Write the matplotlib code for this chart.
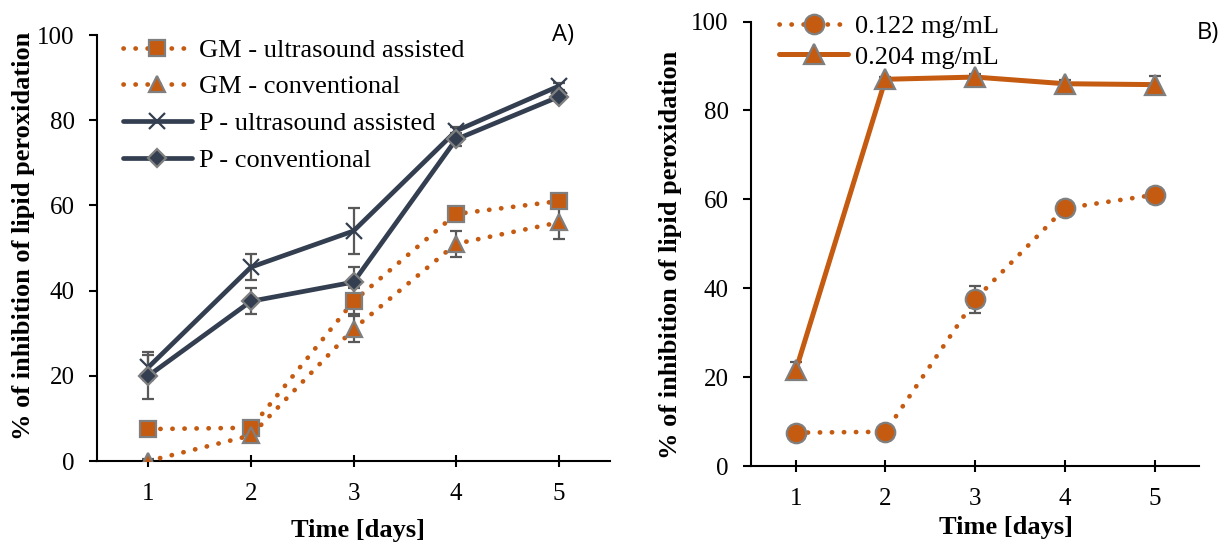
import numpy as np
import matplotlib
matplotlib.use("Agg")
import matplotlib.pyplot as plt

plt.rcParams['font.family'] = ['Liberation Serif', 'DejaVu Serif']

days = [1, 2, 3, 4, 5]

# panel A
gm_us = [7.5, 7.8, 37.5, 58.0, 61.0]
gm_us_err = [0.8, 0.8, 3.0, 1.0, 1.0]
gm_conv = [0.0, 6.0, 31.0, 51.0, 56.0]
gm_conv_err = [0.5, 0.8, 3.0, 3.0, 4.0]
p_us = [22.0, 45.5, 54.0, 77.5, 88.0]
p_us_err = [3.0, 3.0, 5.5, 1.0, 0.8]
p_conv = [20.0, 37.5, 42.0, 75.5, 85.5]
p_conv_err = [5.5, 3.0, 3.5, 1.5, 0.8]

# panel B
c122 = [7.5, 7.7, 37.5, 58.0, 61.0]
c122_err = [0.5, 0.5, 3.0, 1.0, 0.8]
c204 = [21.5, 87.0, 87.5, 86.0, 85.8]
c204_err = [2.0, 0.6, 0.6, 0.8, 2.0]

orange = "#C55A11"
navy = "#333F50"
edge = "#7F7F7F"
errc = "#595959"
dots = (0, (0.05, 2.5))

fig = plt.figure(figsize=(12.19, 5.43), dpi=100)
axA = fig.add_axes([0.0796, 0.151, 0.4208, 0.7845])
axB = fig.add_axes([0.616, 0.1418, 0.368, 0.8186])


def series(ax, y, err, ls, lw, marker, ms, color, label):
    ax.errorbar(days, y, yerr=err, fmt="none", ecolor=errc, elinewidth=1.6,
                capsize=4.5, capthick=1.6, zorder=2)
    is_x = marker == "x"
    ax.plot(days, y, linestyle=ls, linewidth=lw, color=color, marker=marker,
            markersize=ms, markerfacecolor=color,
            markeredgecolor=navy if is_x else edge,
            markeredgewidth=1.6,
            dash_capstyle="round", solid_capstyle="round", label=label, zorder=3)


series(axA, gm_us, gm_us_err, dots, 3.4, "s", 12, orange, "GM - ultrasound assisted")
series(axA, gm_conv, gm_conv_err, dots, 3.4, "^", 12, orange, "GM - conventional")
series(axA, p_us, p_us_err, "-", 3.4, "x", 11, navy, "P - ultrasound assisted")
series(axA, p_conv, p_conv_err, "-", 3.4, "D", 9.5, navy, "P - conventional")

series(axB, c122, c122_err, dots, 3.4, "o", 14, orange, "0.122 mg/mL")
series(axB, c204, c204_err, "-", 3.6, "^", 14, orange, "0.204 mg/mL")

for ax in (axA, axB):
    ax.set_xlim(0.5, 5.5)
    ax.set_ylim(0, 100)
    ax.set_xticks(days)
    ax.set_yticks(range(0, 101, 20))
    for s in ("top", "right"):
        ax.spines[s].set_visible(False)
    for s in ("left", "bottom"):
        ax.spines[s].set_linewidth(1.5)
    ax.tick_params(axis="y", direction="out", length=6, width=1.5, labelsize=18, pad=10)
    ax.tick_params(axis="x", direction="inout", length=9, width=1.5, labelsize=18, pad=11)
    ax.set_xlabel("Time [days]", fontsize=19, fontweight="bold")
    ax.set_ylabel("% of inhibition of lipid peroxidation", fontsize=19, fontweight="bold")
    ax.xaxis.label.set_va("center")
    ax.yaxis.label.set_va("center")

axA.xaxis.set_label_coords(0.509, -0.162)
axB.xaxis.set_label_coords(0.568, -0.139)
axA.yaxis.set_label_coords(-0.144, 0.529)
axB.yaxis.set_label_coords(-0.18, 0.476)

axA.legend(loc="upper left", bbox_to_anchor=(0.03, 1.017), frameon=False, fontsize=19,
           handlelength=2.6, handletextpad=0.27, labelspacing=0.5, borderaxespad=0)
axB.legend(loc="upper left", bbox_to_anchor=(0.04, 1.04), frameon=False, fontsize=19,
           handlelength=2.6, handletextpad=0.27, labelspacing=0.28, borderaxespad=0)

fig.text(552 / 1219, 1 - 35 / 543, "A)", fontsize=17, va="center",
         family=["Open Sans", "DejaVu Sans"])
fig.text(1197 / 1219, 1 - 33 / 543, "B)", fontsize=17, va="center",
         family=["Open Sans", "DejaVu Sans"])

fig.savefig("out.png", dpi=100)
